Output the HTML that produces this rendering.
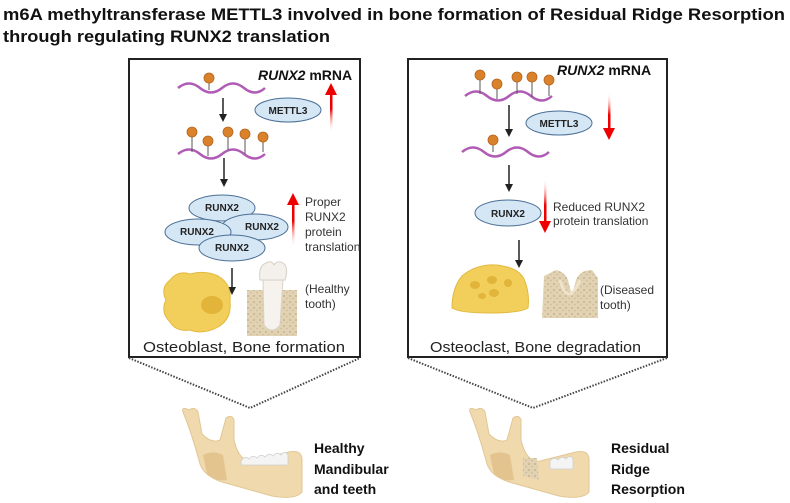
<!DOCTYPE html>
<html><head><meta charset="utf-8"><style>
html,body{margin:0;padding:0;background:#fff;}
svg{display:block;font-family:"Liberation Sans",sans-serif;}
</style></head><body>
<svg width="790" height="503" viewBox="0 0 790 503" xmlns="http://www.w3.org/2000/svg">
<defs>
<marker id="ab" markerWidth="8" markerHeight="8" refX="4" refY="4" orient="auto" markerUnits="userSpaceOnUse"><path d="M0,0 L8,4 L0,8 z" fill="#222"/></marker>
<linearGradient id="ru" x1="0" y1="1" x2="0" y2="0"><stop offset="0" stop-color="#fff" stop-opacity="0"/><stop offset="0.6" stop-color="#e00"/></linearGradient>
<linearGradient id="rd" x1="0" y1="0" x2="0" y2="1"><stop offset="0" stop-color="#fff" stop-opacity="0"/><stop offset="0.6" stop-color="#e00"/></linearGradient>
<pattern id="bone" width="6" height="6" patternUnits="userSpaceOnUse"><rect width="6" height="6" fill="#e2d2b4"/><circle cx="2" cy="2" r="1" fill="#c9b38c"/><circle cx="5" cy="4.5" r="0.8" fill="#cdb893"/></pattern>
</defs>
<text x="3" y="20" font-size="17" font-weight="bold" fill="#111" textLength="782" lengthAdjust="spacingAndGlyphs">m6A methyltransferase METTL3 involved in bone formation of Residual Ridge Resorption</text>
<text x="3" y="42" font-size="17" font-weight="bold" fill="#111" textLength="327" lengthAdjust="spacingAndGlyphs">through regulating RUNX2 translation</text>

<!-- boxes -->
<rect x="129" y="59" width="231" height="298" fill="none" stroke="#222" stroke-width="2"/>
<rect x="408" y="59" width="259" height="298" fill="none" stroke="#222" stroke-width="2"/>
<polyline points="129,358 250,408 360,358" fill="none" stroke="#444" stroke-width="2" stroke-dasharray="1.5 1.5"/>
<polyline points="408,358 533,408 667,358" fill="none" stroke="#444" stroke-width="2" stroke-dasharray="1.5 1.5"/>

<!-- LEFT PANEL -->
<g fill="none" stroke="#b05bb5" stroke-width="2.5">
<path d="M178,88 q11,-9 22,0 t22,0 t22,0 t21,0"/>
<path d="M178,154 q11,-9 22,0 t22,0 t22,0 t21,0"/>
</g>
<g stroke="#555" stroke-width="1"><line x1="209" y1="83" x2="209" y2="90"/><line x1="192" y1="137" x2="192" y2="152"/><line x1="208" y1="146" x2="208" y2="156"/><line x1="228" y1="137" x2="228" y2="150"/><line x1="245" y1="139" x2="245" y2="154"/><line x1="263" y1="142" x2="263" y2="152"/></g>
<g fill="#d9822b" stroke="#b5651d" stroke-width="0.8">
<circle cx="209" cy="78" r="5"/><circle cx="192" cy="132" r="5"/><circle cx="208" cy="141" r="5"/><circle cx="228" cy="132" r="5"/><circle cx="245" cy="134" r="5"/><circle cx="263" cy="137" r="5"/>
</g>
<text x="258" y="80" font-size="14" font-weight="bold" fill="#111"><tspan font-style="italic">RUNX2</tspan> mRNA</text>
<ellipse cx="288" cy="110" rx="33" ry="12" fill="#d5e6f5" stroke="#4a6f95" stroke-width="1"/>
<text x="288" y="114" font-size="10" font-weight="bold" text-anchor="middle" fill="#222">METTL3</text>
<rect x="330" y="93" width="2.5" height="40" fill="url(#ru)"/><path d="M325,95 L331,83 L337,95 z" fill="#e00"/>
<g stroke="#222" stroke-width="1.5" marker-end="url(#ab)">
<line x1="223" y1="98" x2="223" y2="118"/><line x1="224" y1="158" x2="224" y2="183"/><line x1="232" y1="268" x2="232" y2="291"/>
<line x1="509" y1="105" x2="509" y2="133"/><line x1="509" y1="165" x2="509" y2="188"/><line x1="519" y1="240" x2="519" y2="264"/>
</g>
<g fill="#d5e6f5" stroke="#4a6f95" stroke-width="1">
<ellipse cx="222" cy="208" rx="33" ry="13"/><ellipse cx="255" cy="227" rx="33" ry="13"/><ellipse cx="198" cy="232" rx="33" ry="13"/><ellipse cx="232" cy="248" rx="33" ry="13"/>
</g>
<g font-size="10" font-weight="bold" text-anchor="middle" fill="#222">
<text x="222" y="211">RUNX2</text><text x="262" y="230">RUNX2</text><text x="197" y="235">RUNX2</text><text x="232" y="251">RUNX2</text>
</g>
<rect x="292" y="203" width="2.5" height="45" fill="url(#ru)"/><path d="M287,205 L293,193 L299,205 z" fill="#e00"/>
<g font-size="12" fill="#333"><text x="305" y="206">Proper</text><text x="305" y="221">RUNX2</text><text x="305" y="236">protein</text><text x="305" y="251">translation</text>
<text x="305" y="293">(Healthy</text><text x="305" y="308">tooth)</text></g>
<path d="M170,280 q8,-10 20,-6 q15,-4 28,2 q14,8 12,25 q2,18 -12,26 q-14,8 -28,3 q-14,2 -20,-8 q-10,-10 -4,-22 q-6,-12 4,-20z" fill="#f2cf5b" stroke="#e2b940" stroke-width="1"/>
<ellipse cx="212" cy="305" rx="11" ry="9" fill="#e3b43a"/>
<path d="M247,290 L297,290 L297,336 L247,336 z" fill="url(#bone)"/>
<path d="M263,278 L264,325 Q272,335 280,325 L283,278 z" fill="#f6f3ee" stroke="#d9d2c6" stroke-width="1"/>
<path d="M260,280 q-2,-14 6,-17 q6,-3 8,2 q3,-5 9,-2 q6,4 2,17 z" fill="#f4f1ec" stroke="#d6cfc3" stroke-width="1"/>
<text x="143" y="352" font-size="15" fill="#222" textLength="202" lengthAdjust="spacingAndGlyphs">Osteoblast, Bone formation</text>

<!-- RIGHT PANEL -->
<g fill="none" stroke="#b05bb5" stroke-width="2.5">
<path d="M465,96 q11,-9 22,0 t22,0 t22,0 t21,0"/>
<path d="M462,152 q11,-9 22,0 t22,0 t22,0 t21,0"/>
</g>
<g stroke="#555" stroke-width="1"><line x1="480" y1="80" x2="480" y2="94"/><line x1="497" y1="89" x2="497" y2="99"/><line x1="517" y1="82" x2="517" y2="94"/><line x1="532" y1="82" x2="532" y2="97"/><line x1="549" y1="85" x2="549" y2="96"/><line x1="493" y1="145" x2="493" y2="152"/></g>
<g fill="#d9822b" stroke="#b5651d" stroke-width="0.8">
<circle cx="480" cy="75" r="5"/><circle cx="497" cy="84" r="5"/><circle cx="517" cy="77" r="5"/><circle cx="532" cy="77" r="5"/><circle cx="549" cy="80" r="5"/><circle cx="493" cy="140" r="5"/>
</g>
<text x="557" y="75" font-size="14" font-weight="bold" fill="#111"><tspan font-style="italic">RUNX2</tspan> mRNA</text>
<ellipse cx="559" cy="123" rx="33" ry="12" fill="#d5e6f5" stroke="#4a6f95" stroke-width="1"/>
<text x="559" y="127" font-size="10" font-weight="bold" text-anchor="middle" fill="#222">METTL3</text>
<rect x="608" y="92" width="2.5" height="38" fill="url(#rd)"/><path d="M603,128 L609,140 L615,128 z" fill="#e00"/>
<ellipse cx="508" cy="213" rx="33" ry="13" fill="#d5e6f5" stroke="#4a6f95" stroke-width="1"/>
<text x="508" y="217" font-size="10" font-weight="bold" text-anchor="middle" fill="#222">RUNX2</text>
<rect x="544" y="178" width="2.5" height="45" fill="url(#rd)"/><path d="M539,221 L545,233 L551,221 z" fill="#e00"/>
<g font-size="12" fill="#333"><text x="553" y="211">Reduced RUNX2</text><text x="553" y="225">protein translation</text>
<text x="600" y="294">(Diseased</text><text x="600" y="309">tooth)</text></g>
<path d="M452,308 q0,-20 10,-32 q14,-12 34,-11 q22,2 28,14 q6,14 4,29 q-8,5 -38,5 q-30,0 -38,-5z" fill="#f2cf5b" stroke="#e2b940" stroke-width="1"/>
<g fill="#e3b43a"><ellipse cx="475" cy="285" rx="5" ry="4"/><ellipse cx="492" cy="280" rx="5" ry="4"/><ellipse cx="494" cy="293" rx="5" ry="4"/><ellipse cx="508" cy="283" rx="4" ry="4"/><ellipse cx="482" cy="296" rx="4" ry="3"/></g>
<path d="M542,318 L544,276 L556,270 Q565,272 568,280 L572,296 L576,280 Q580,270 592,270 L598,278 L598,318 z" fill="url(#bone)"/>
<path d="M560,280 Q568,308 580,280" fill="none" stroke="#efe3cb" stroke-width="3"/>
<text x="430" y="352" font-size="15" fill="#222" textLength="211" lengthAdjust="spacingAndGlyphs">Osteoclast, Bone degradation</text>

<!-- JAWS -->
<g id="jaw">
<path d="M189,410 q6,-4 9,2 l4,22 q10,10 18,6 l6,-22 q6,-4 8,2 l0,20 q4,18 15,22 l40,-10 q14,-3 13,10 l0,30 q-6,8 -30,4 l-50,-14 q-18,-6 -22,-18 q-8,-30 -17,-52 q-2,-6 6,-2z" fill="#efd9ad" stroke="#e2c795" stroke-width="1"/>
<path d="M203,455 q10,-5 20,0 l4,25 q-10,2 -20,-6z" fill="#e3c48f"/>
</g>
<path d="M241,461 q4,-6 8,-2 q4,-5 8,-1 q4,-5 8,-1 q4,-5 8,-1 q4,-5 8,-1 q4,-5 7,0 l0,10 l-47,0z" fill="#f4f4f4" stroke="#cfcfcf" stroke-width="0.8"/>
<g transform="translate(287,0)">
<path d="M189,410 q6,-4 9,2 l4,22 q10,10 18,6 l6,-22 q6,-4 8,2 l0,20 q4,18 15,22 l40,-10 q14,-3 13,10 l0,30 q-6,8 -30,4 l-50,-14 q-18,-6 -22,-18 q-8,-30 -17,-52 q-2,-6 6,-2z" fill="#efd9ad" stroke="#e2c795" stroke-width="1"/>
<path d="M203,455 q10,-5 20,0 l4,25 q-10,2 -20,-6z" fill="#e3c48f"/>
<path d="M236,458 l14,0 l2,22 l-16,-4z" fill="url(#bone)"/>
<path d="M263,461 q4,-5 8,-1 q4,-5 8,-1 q4,-5 7,0 l0,10 l-23,0z" fill="#f4f4f4" stroke="#cfcfcf" stroke-width="0.8"/>
</g>
<g font-size="14" font-weight="bold" fill="#111">
<text x="314" y="453">Healthy</text><text x="314" y="474">Mandibular</text><text x="314" y="494">and teeth</text>
<text x="611" y="453">Residual</text><text x="611" y="474">Ridge</text><text x="611" y="494">Resorption</text>
</g>
</svg>
</body></html>
